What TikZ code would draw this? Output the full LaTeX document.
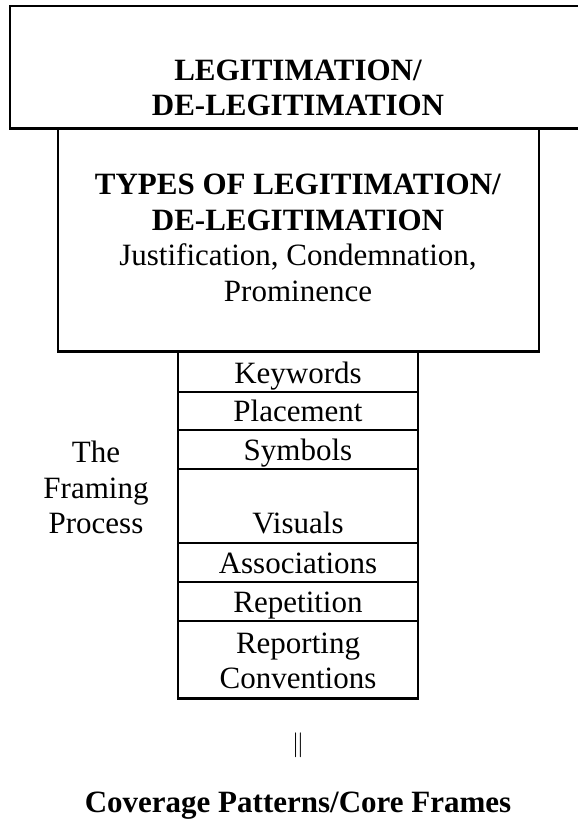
\documentclass[tikz,border=0pt]{standalone}
\usepackage{fontspec}
\setmainfont{Liberation Serif}
\begin{document}
\begin{tikzpicture}[x=1pt,y=-1pt,
  frame/.style={draw=black,line width=2.7pt},
  rule/.style={draw=black,line width=2.7pt},
  txt/.style={align=center,inner sep=0pt,font=\fontsize{31}{35.5}\selectfont},
  bold/.style={txt,font=\fontsize{31}{35.5}\selectfont\bfseries},
  cell/.style={txt,anchor=base}]
\useasboundingbox (0,0) rectangle (578,831);
\fill[white] (0,0) rectangle (578,831);

% outer heading box (runs past the right edge)
\draw[frame] (10,6) rectangle (590,128.5);
\node[bold] (head) at (298,88) {LEGITIMATION/\\DE-LEGITIMATION};

% box with the types of legitimation
\draw[frame] (58,128.5) rectangle (539,351.5);
\node[txt] (types) at (298,238) {\textbf{TYPES OF LEGITIMATION/}\\\textbf{DE-LEGITIMATION}\\Justification, Condemnation,\\Prominence};

% column of framing devices
\coordinate (tl) at (178,351.5);
\coordinate (br) at (418,698.5);
\draw[frame] (tl) rectangle (br);
\foreach \yy in {392,430,469,543,582,621}
  \draw[rule] (178,\yy) -- (418,\yy);

\node[cell] (kw)  at (298,383) {Keywords};
\node[cell] (pl)  at (298,421) {Placement};
\node[cell] (sy)  at (298,460) {Symbols};
\node[cell] (vi)  at (298,533) {Visuals};
\node[cell] (as)  at (298,573) {Associations};
\node[cell] (re)  at (298,612) {Repetition};
\node[cell] (rc)  at (298,653) {Reporting};
\node[cell] (co)  at (298,688) {Conventions};

% label beside the column
\node[txt,anchor=north] (fp) at (96,441) {The\\Framing\\Process};

% double bar and closing caption
\node[txt] (bar) at (298,745) {$\|$};
\node[bold] (cp) at (298,806) {Coverage Patterns/Core Frames};
\end{tikzpicture}
\end{document}
